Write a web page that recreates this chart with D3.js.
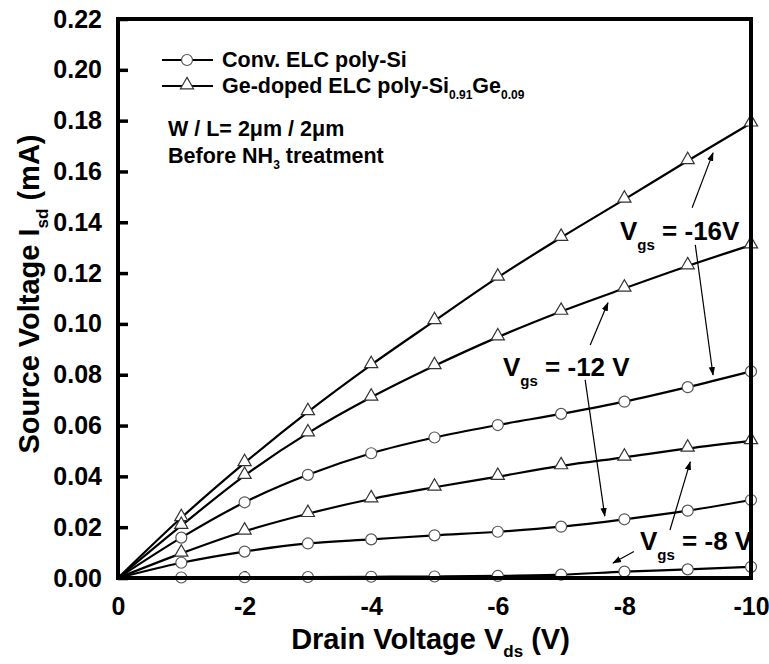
<!DOCTYPE html>
<html>
<head>
<meta charset="utf-8">
<script src="https://cdn.jsdelivr.net/npm/d3@7"></script>
<style>
  body { margin: 0; background: #fff; }
  text { font-family: Arial, "Liberation Sans", sans-serif; font-weight: bold; fill: #000; }
</style>
</head>
<body>
<script>
// drain voltage steps (V)
var vds = [0, -1, -2, -3, -4, -5, -6, -7, -8, -9, -10];

// Ge-doped ELC poly-Si0.91Ge0.09 (mA)
var geM16 = [0, 0.0237, 0.0453, 0.0654, 0.0839, 0.1012, 0.1183, 0.1340, 0.1490, 0.1642, 0.1790];
var geM12 = [0, 0.0206, 0.0403, 0.0570, 0.0711, 0.0835, 0.0948, 0.1049, 0.1140, 0.1228, 0.1310];
var geM8  = [0, 0.0097, 0.0184, 0.0253, 0.0311, 0.0357, 0.0399, 0.0441, 0.0475, 0.0510, 0.0540];

// Conv. ELC poly-Si (mA)
var convM16 = [0, 0.0159, 0.0298, 0.0406, 0.0491, 0.0553, 0.0602, 0.0646, 0.0694, 0.0751, 0.0813];
var convM12 = [0, 0.0060, 0.0104, 0.0136, 0.0152, 0.0168, 0.0182, 0.0202, 0.0231, 0.0265, 0.0307];
var convM8  = [0, 0.0002, 0.0003, 0.0004, 0.0005, 0.0006, 0.0008, 0.0013, 0.0025, 0.0034, 0.0044];

var yTicks = [0, 0.02, 0.04, 0.06, 0.08, 0.10, 0.12, 0.14, 0.16, 0.18, 0.20, 0.22];
var xTicks = [0, -2, -4, -6, -8, -10];
var xTickLabels = ["0", "-2", "-4", "-6", "-8", "-10"];

// annotation arrows in data units: [x1, y1, x2, y2]
var arrows = [
  [-9.07, 0.1457, -9.40, 0.1673],
  [-9.12, 0.1311, -9.40, 0.0799],
  [-7.46, 0.0917, -7.74, 0.1083],
  [-7.38, 0.0780, -7.69, 0.0244],
  [-8.72, 0.0189, -9.04, 0.0457],
  [-8.15, 0.0104, -7.82, 0.0059]
];

var margin = {top: 19, right: 18, bottom: 86, left: 118},
    W = 769, H = 664,
    width = W - margin.left - margin.right,
    height = H - margin.top - margin.bottom;

var svg = d3.select("body").append("svg")
    .attr("width", W)
    .attr("height", H);

var defs = svg.append("defs");
defs.append("marker")
    .attr("id", "head")
    .attr("viewBox", "0 0 10 10")
    .attr("refX", 9).attr("refY", 5)
    .attr("markerWidth", 9).attr("markerHeight", 9)
    .attr("markerUnits", "userSpaceOnUse")
    .attr("orient", "auto")
  .append("path")
    .attr("d", "M0,1.5 L10,5 L0,8.5 Z")
    .attr("fill", "#000");

var g = svg.append("g")
    .attr("transform", "translate(" + margin.left + "," + margin.top + ")");

var x = d3.scaleLinear().domain([0, -10]).range([0, width]);
var y = d3.scaleLinear().domain([0, 0.22]).range([height, 0]);

// inward ticks
var yAxis = d3.axisLeft(y).tickValues(yTicks).tickSize(-10).tickPadding(16)
    .tickFormat(d3.format(".2f"));
var xAxis = d3.axisBottom(x).tickValues(xTicks).tickSize(-7).tickPadding(19)
    .tickFormat(function(d, i) { return xTickLabels[i]; });

var ya = g.append("g").call(yAxis);
ya.select(".domain").remove();
ya.selectAll(".tick line").attr("stroke", "#000").attr("stroke-width", 3.5);
ya.selectAll(".tick text").style("font-size", "25px");

var xa = g.append("g").attr("transform", "translate(0," + height + ")").call(xAxis);
xa.select(".domain").remove();
xa.selectAll(".tick line").attr("stroke", "#000").attr("stroke-width", 3);
xa.selectAll(".tick text").style("font-size", "25px");

// curves
var series = [
  {vals: geM16, sym: "tri"},
  {vals: geM12, sym: "tri"},
  {vals: geM8, sym: "tri"},
  {vals: convM16, sym: "circ"},
  {vals: convM12, sym: "circ"},
  {vals: convM8, sym: "circ"}
];

var line = d3.line()
    .x(function(d, i) { return x(vds[i]); })
    .y(function(d) { return y(d); })
    .curve(d3.curveMonotoneX);

series.forEach(function(s) {
  g.append("path")
      .attr("d", line(s.vals))
      .attr("fill", "none")
      .attr("stroke", "#000")
      .attr("stroke-width", 2.2);
});

var tri = d3.symbol().type(d3.symbolTriangle).size(75);

series.forEach(function(s) {
  var pts = s.vals.slice(1).map(function(v, i) { return [vds[i + 1], v]; });
  if (s.sym === "circ") {
    g.selectAll(null).data(pts).enter().append("circle")
        .attr("cx", function(d) { return x(d[0]); })
        .attr("cy", function(d) { return y(d[1]); })
        .attr("r", 5.5)
        .attr("fill", "#fff")
        .attr("stroke", "#555")
        .attr("stroke-width", 1.2);
  } else {
    g.selectAll(null).data(pts).enter().append("path")
        .attr("d", tri)
        .attr("transform", function(d) { return "translate(" + x(d[0]) + "," + (y(d[1]) - 1) + ")"; })
        .attr("fill", "#fff")
        .attr("stroke", "#333")
        .attr("stroke-width", 1.2);
  }
});

// frame
g.append("rect")
    .attr("width", width).attr("height", height)
    .attr("fill", "none")
    .attr("stroke", "#000")
    .attr("stroke-width", 4);

// arrows
g.selectAll(".arrow").data(arrows).enter().append("line")
    .attr("class", "arrow")
    .attr("x1", function(d) { return x(d[0]); })
    .attr("y1", function(d) { return y(d[1]); })
    .attr("x2", function(d) { return x(d[2]); })
    .attr("y2", function(d) { return y(d[3]); })
    .attr("stroke", "#000")
    .attr("stroke-width", 1.2)
    .attr("marker-end", "url(#head)");

// Vgs labels
function vgsLabel(px, py, rest) {
  var t = svg.append("text").attr("x", px).attr("y", py).style("font-size", "26px");
  t.append("tspan").text("V");
  t.append("tspan").attr("dy", 10).style("font-size", "15px").text("gs");
  t.append("tspan").attr("dy", -10).text(rest);
}
vgsLabel(620, 240, " = -16V");
vgsLabel(503, 376, " = -12 V");
vgsLabel(640, 550, " = -8 V");

// legend
var leg = svg.append("g");
leg.append("line").attr("x1", 162).attr("x2", 213).attr("y1", 60).attr("y2", 60)
    .attr("stroke", "#000").attr("stroke-width", 2);
leg.append("circle").attr("cx", 187).attr("cy", 60).attr("r", 5.5)
    .attr("fill", "#fff").attr("stroke", "#555").attr("stroke-width", 1.2);
leg.append("text").attr("x", 222).attr("y", 67).style("font-size", "21.5px").text("Conv. ELC poly-Si");

leg.append("line").attr("x1", 162).attr("x2", 213).attr("y1", 86).attr("y2", 86)
    .attr("stroke", "#000").attr("stroke-width", 2);
leg.append("path").attr("d", tri).attr("transform", "translate(187,85)")
    .attr("fill", "#fff").attr("stroke", "#333").attr("stroke-width", 1.2);
var lt = leg.append("text").attr("x", 222).attr("y", 93).style("font-size", "21.5px");
lt.append("tspan").text("Ge-doped ELC poly-Si");
lt.append("tspan").attr("dy", 6).style("font-size", "12px").text("0.91");
lt.append("tspan").attr("dy", -6).text("Ge");
lt.append("tspan").attr("dy", 6).style("font-size", "12px").text("0.09");

svg.append("text").attr("x", 168).attr("y", 136).style("font-size", "21.5px")
    .text("W / L= 2\u03bcm / 2\u03bcm");
var nh = svg.append("text").attr("x", 168).attr("y", 163).style("font-size", "21.5px");
nh.append("tspan").text("Before NH");
nh.append("tspan").attr("dy", 6).style("font-size", "12px").text("3");
nh.append("tspan").attr("dy", -6).text(" treatment");

// axis titles
var xt = svg.append("text")
    .attr("x", margin.left + width / 2 - 4).attr("y", 649)
    .attr("text-anchor", "middle").style("font-size", "29px");
xt.append("tspan").text("Drain Voltage V");
xt.append("tspan").attr("dy", 8).style("font-size", "17px").text("ds");
xt.append("tspan").attr("dy", -8).text(" (V)");

var yt = svg.append("text")
    .attr("transform", "translate(39," + (margin.top + 275) + ") rotate(-90)")
    .attr("text-anchor", "middle").style("font-size", "29px");
yt.append("tspan").text("Source Voltage I");
yt.append("tspan").attr("dy", 9).style("font-size", "17px").text("sd");
yt.append("tspan").attr("dy", -9).text(" (mA)");
</script>
</body>
</html>
